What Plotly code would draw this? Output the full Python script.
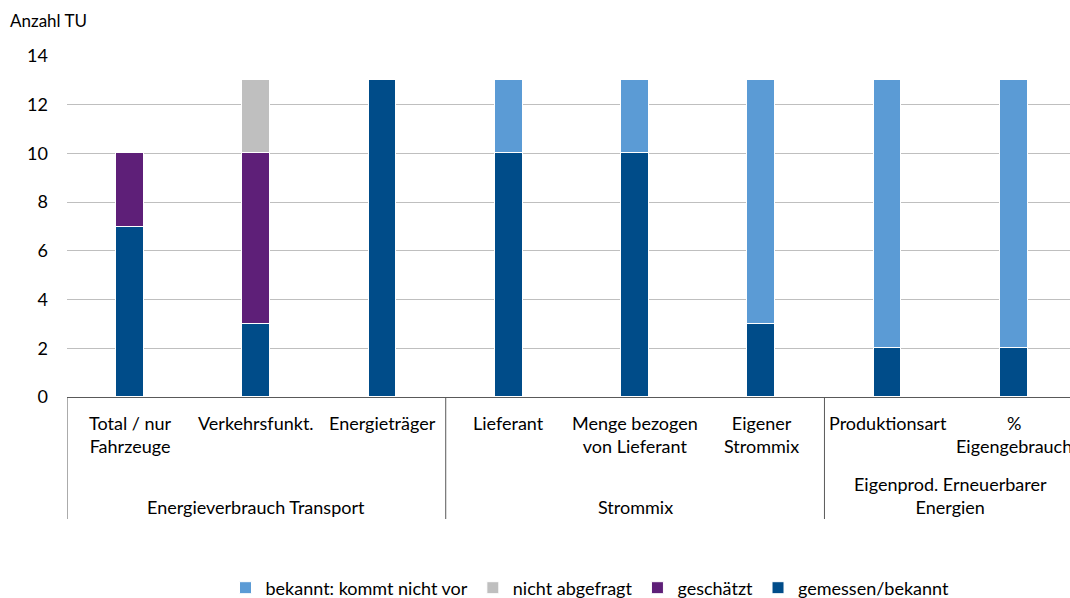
import plotly.graph_objects as go

categories = ["Total / nur<br>Fahrzeuge", "Verkehrsfunkt.", "Energieträger",
              "Lieferant", "Menge bezogen<br>von Lieferant", "Eigener<br>Strommix",
              "Produktionsart", "%<br>Eigengebrauch"]
groups = ["Energieverbrauch Transport", "Strommix", "Eigenprod. Erneuerbarer<br>Energien"]
group_spans = [(0, 2), (3, 5), (6, 7)]

gemessen = [7, 3, 13, 10, 10, 3, 2, 2]
geschaetzt = [3, 7, 0, 0, 0, 0, 0, 0]
nicht_abgefragt = [0, 3, 0, 0, 0, 0, 0, 0]
bekannt_nicht_vor = [0, 0, 0, 3, 3, 10, 11, 11]

y_ticks = [0, 2, 4, 6, 8, 10, 12, 14]

FONT = "Lato"
FS = 18
W, H = 1070, 598
L, T, B = 67, 56, 201
PH = H - T - B

def py(p):
    return (H - B - p) / PH

x = list(range(len(categories)))
series = [
    ("gemessen/bekannt", gemessen, "#004C89"),
    ("geschätzt", geschaetzt, "#5E1F78"),
    ("nicht abgefragt", nicht_abgefragt, "#BFBFBF"),
    ("bekannt: kommt nicht vor", bekannt_nicht_vor, "#5B9BD5"),
]

fig = go.Figure()
for name, vals, col in series:
    fig.add_trace(go.Bar(x=x, y=vals, name=name, width=0.22,
                         marker=dict(color=col, line=dict(color="white", width=1))))

annotations = []
for i, c in enumerate(categories):
    annotations.append(dict(x=i, y=py(410), xref="x", yref="paper", text=c,
                            showarrow=False, xanchor="center", yanchor="top",
                            font=dict(family=FONT, size=FS, color="black")))
for g, (a, b) in zip(groups, group_spans):
    annotations.append(dict(x=(a + b) / 2, y=py(520), xref="x", yref="paper", text=g,
                            showarrow=False, xanchor="center", yanchor="bottom",
                            font=dict(family=FONT, size=FS, color="black")))
annotations.append(dict(x=(8 - L) / (W - L), y=py(20), xref="paper", yref="paper",
                        text="Anzahl TU", showarrow=False, xanchor="left", yanchor="middle",
                        font=dict(family=FONT, size=FS - 1, color="black")))

shapes = []
for b in [-0.5, 2.5, 5.5]:
    shapes.append(dict(type="line", xref="x", yref="paper", x0=b, x1=b, y0=0, y1=py(519),
                       line=dict(color="#595959", width=1)))

fig.update_layout(
    width=W, height=H,
    margin=dict(l=L, r=0, t=T, b=B, pad=0),
    plot_bgcolor="white", paper_bgcolor="white",
    barmode="stack", bargap=0,
    font=dict(family=FONT, size=FS, color="black"),
    xaxis=dict(range=[-0.5, 7.445], showticklabels=False, showgrid=False, zeroline=False,
               showline=True, linecolor="#595959", linewidth=1, ticks="", fixedrange=True),
    yaxis=dict(range=[0, 14], tickvals=y_ticks, showgrid=True, gridcolor="#BFBFBF",
               gridwidth=1, zeroline=False, showline=False, ticks="",
               ticklabelstandoff=18, tickfont=dict(family=FONT, size=FS, color="black")),
    legend=dict(orientation="h", x=(590 - L) / (W - L), xanchor="center",
                yref="container", y=(H - 588) / H, yanchor="middle", traceorder="reversed",
                font=dict(family=FONT, size=FS, color="black")),
    annotations=annotations, shapes=shapes,
)

fig.write_html("out.html")
